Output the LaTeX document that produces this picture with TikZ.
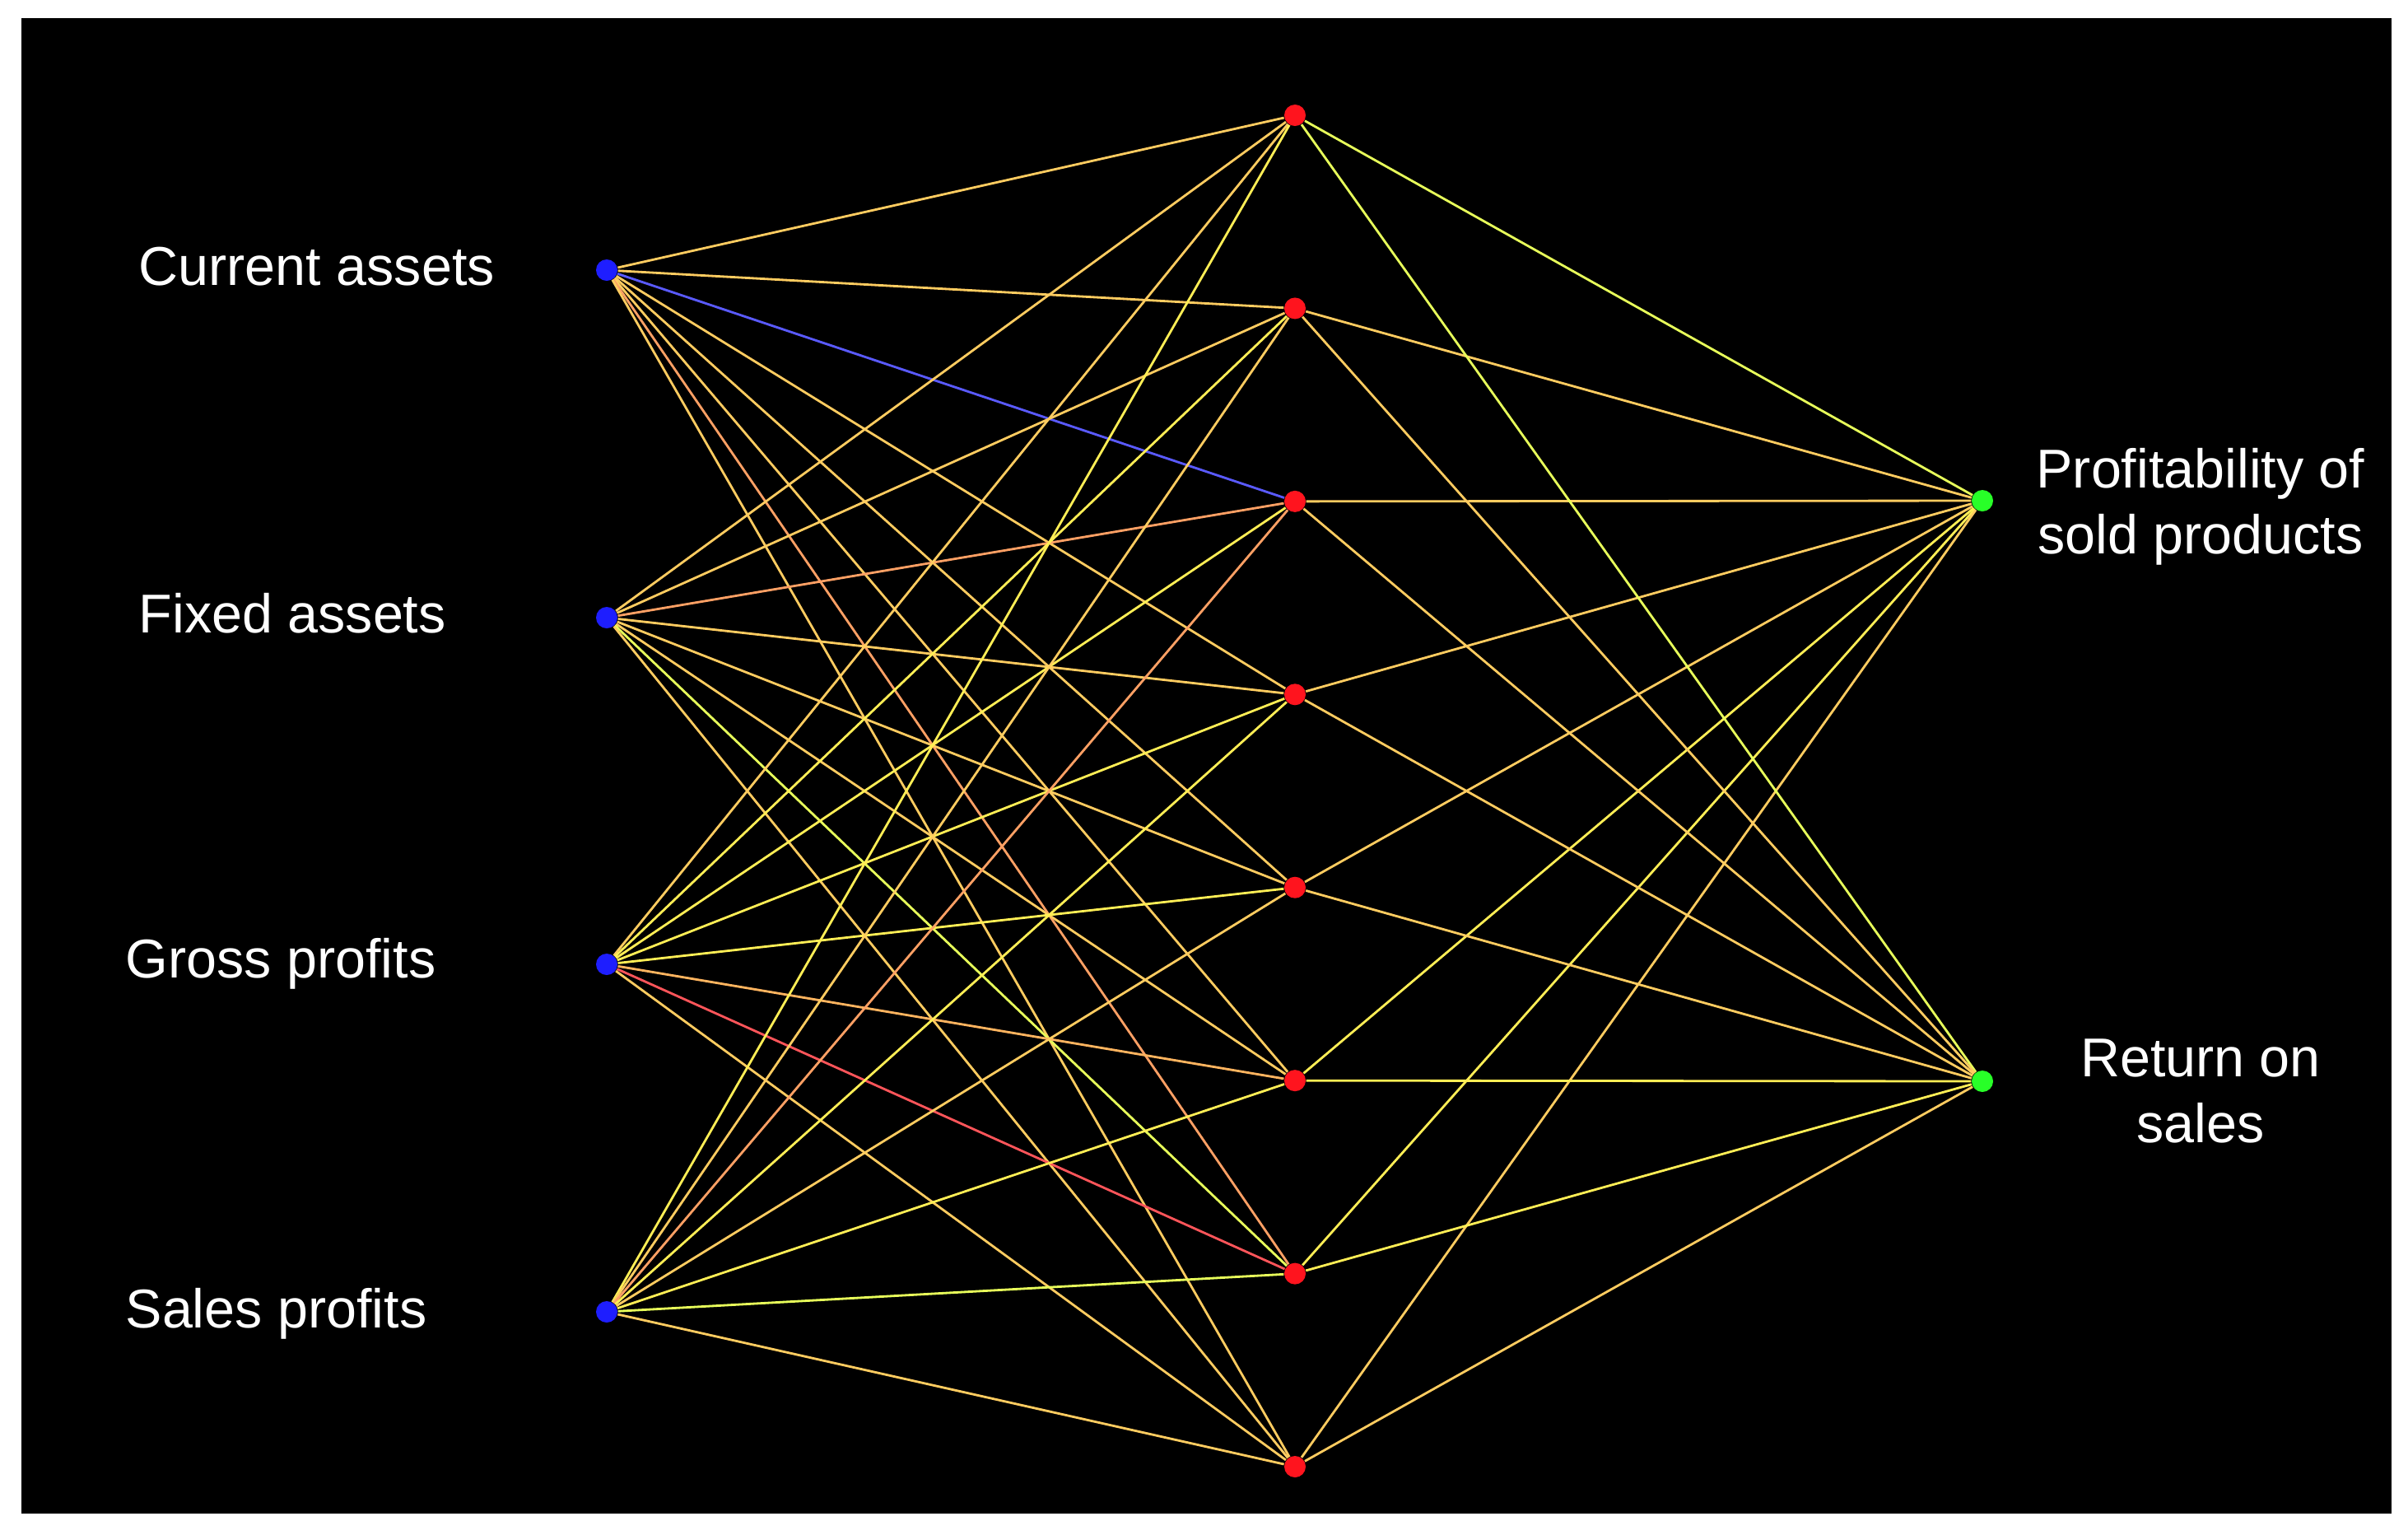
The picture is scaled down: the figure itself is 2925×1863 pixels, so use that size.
\documentclass[tikz,border=0pt]{standalone}
\usepackage{fontspec}
\setmainfont{Liberation Sans}
\definecolor{wLO}{RGB}{255,204,96}
\definecolor{wLY}{RGB}{255,238,85}
\definecolor{wYG}{RGB}{232,255,90}
\definecolor{wOR}{RGB}{255,160,100}
\definecolor{wOL}{RGB}{255,180,95}
\definecolor{wRD}{RGB}{255,85,90}
\definecolor{wBL}{RGB}{90,90,255}
\definecolor{dotB}{RGB}{30,30,255}
\definecolor{dotR}{RGB}{255,20,30}
\definecolor{dotG}{RGB}{40,255,40}
\pgfdeclarelayer{bg}
\pgfsetlayers{bg,main}
\begin{document}
\begin{tikzpicture}[x=0.01cm,y=-0.01cm,
  conn/.style={line width=0.8pt},
  dotbase/.style={circle,inner sep=0pt,minimum size=0.26cm},
  indot/.style={dotbase,fill=dotB},
  hiddot/.style={dotbase,fill=dotR},
  outdot/.style={dotbase,fill=dotG},
  lbl/.style={text=white,font=\fontsize{18.9}{22.8}\selectfont,inner sep=0pt}]
\useasboundingbox (0,0) rectangle (2925,1863);
\begin{pgfonlayer}{bg}
\fill[white] (0,0) rectangle (2925,1863);
\fill[black] (26,22) rectangle (2905,1838);
\end{pgfonlayer}
% nodes
\node[indot] (i1) at (737,328) {};
\node[indot] (i2) at (737,750) {};
\node[indot] (i3) at (737,1171) {};
\node[indot] (i4) at (737,1593) {};
\foreach \j in {1,...,8}
  \node[hiddot] (h\j) at (1573,{140+234.43*(\j-1)}) {};
\node[outdot] (o1) at (2408,608) {};
\node[outdot] (o2) at (2408,1313) {};
% labels
\node[lbl,anchor=base west] (l1) at (168,346) {Current assets};
\node[lbl,anchor=base west] (l2) at (168,768) {Fixed assets};
\node[lbl,anchor=base west] (l3) at (152,1187) {Gross profits};
\node[lbl,anchor=base west] (l4) at (152,1612) {Sales profits};
\node[lbl,anchor=base] (lo1) at (2673,592) {\begin{tabular}[t]{@{}c@{}}Profitability of\\sold products\end{tabular}};
\node[lbl,anchor=base] (lo2) at (2673,1307) {\begin{tabular}[t]{@{}c@{}}Return on\\sales\end{tabular}};
% connectors
\begin{pgfonlayer}{bg}
\foreach \j/\c in {1/wLO,2/wLO,3/wBL,4/wLO,5/wLO,6/wLO,7/wOR,8/wLO}
  \draw[conn,color=\c] (i1) -- (h\j);
\foreach \j/\c in {1/wLO,2/wLO,3/wOR,4/wLO,5/wLO,6/wLO,7/wYG,8/wLO}
  \draw[conn,color=\c] (i2) -- (h\j);
\foreach \j/\c in {1/wLO,2/wLY,3/wLY,4/wLY,5/wLY,6/wOL,7/wRD,8/wLO}
  \draw[conn,color=\c] (i3) -- (h\j);
\foreach \j/\c in {1/wLY,2/wLO,3/wOR,4/wLY,5/wLO,6/wLY,7/wYG,8/wLO}
  \draw[conn,color=\c] (i4) -- (h\j);
\foreach \j/\c in {1/wYG,2/wLO,3/wLO,4/wLO,5/wLO,6/wLY,7/wLY,8/wLO}
  \draw[conn,color=\c] (h\j) -- (o1);
\foreach \j/\c in {1/wYG,2/wLO,3/wLO,4/wLO,5/wLO,6/wLY,7/wLY,8/wLO}
  \draw[conn,color=\c] (h\j) -- (o2);
\end{pgfonlayer}
\end{tikzpicture}
\end{document}
